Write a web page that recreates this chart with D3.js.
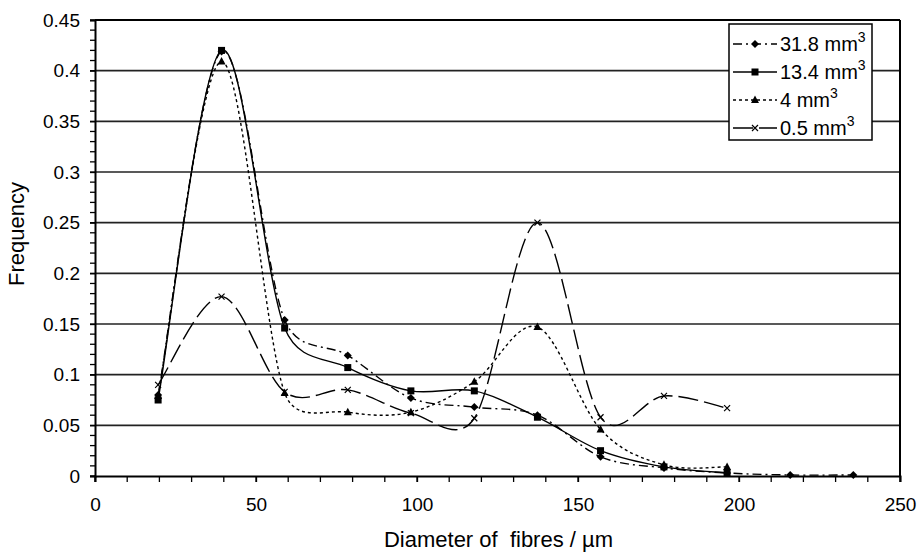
<!DOCTYPE html>
<html><head><meta charset="utf-8">
<script src="https://cdn.jsdelivr.net/npm/d3@7/dist/d3.min.js"></script>
<style>body{margin:0;background:#fff}svg{display:block}text{font-family:"Liberation Sans",Arial,sans-serif;fill:#000;white-space:pre}</style>
</head><body><svg id="c" width="918" height="553"></svg>
<script>
const diameters = [19.6, 39.3, 58.9, 78.5, 98.1, 117.8, 137.4, 157.0, 176.7, 196.3, 215.9, 235.5];
const seriesNames = ["31.8 mm", "13.4 mm", "4 mm", "0.5 mm"];
const s318 = [0.080, 0.419, 0.154, 0.119, 0.077, 0.068, 0.060, 0.019, 0.008, 0.003, 0.001, 0.001];
const s134 = [0.075, 0.420, 0.146, 0.107, 0.084, 0.084, 0.058, 0.025, 0.009, 0.003];
const s4   = [0.079, 0.409, 0.082, 0.063, 0.063, 0.093, 0.147, 0.046, 0.011, 0.009];
const s05  = [0.090, 0.177, 0.083, 0.085, 0.062, 0.057, 0.250, 0.058, 0.079, 0.067];
const xTicks = [0, 50, 100, 150, 200, 250];
const yTicks = [0, 0.05, 0.1, 0.15, 0.2, 0.25, 0.3, 0.35, 0.4, 0.45];

const series = [
  {name: seriesNames[0], values: s318, dash: "9,4,2,4", marker: "diamond"},
  {name: seriesNames[1], values: s134, dash: null, marker: "square"},
  {name: seriesNames[2], values: s4, dash: "3,3", marker: "triangle"},
  {name: seriesNames[3], values: s05, dash: "20,6", marker: "cross"}
];

const svg = d3.select("#c");
const m = {l: 95, r: 900, t: 20, b: 476};
const x = d3.scaleLinear().domain([0, 250]).range([m.l, m.r]);
const y = d3.scaleLinear().domain([0, 0.45]).range([m.b, m.t]);

svg.append("g").selectAll("line").data(yTicks.slice(1)).join("line")
  .attr("x1", m.l).attr("x2", m.r).attr("y1", d => y(d)).attr("y2", d => y(d))
  .attr("stroke", "#222").attr("stroke-width", 1.6);
svg.append("line").attr("x1", m.r).attr("x2", m.r).attr("y1", m.t).attr("y2", m.b).attr("stroke", "#000").attr("stroke-width", 2);

svg.append("g").selectAll("line").data(d3.range(0, 251, 10)).join("line")
  .attr("x1", d => x(d)).attr("x2", d => x(d)).attr("y1", m.b).attr("y2", m.b + 6)
  .attr("stroke", "#000").attr("stroke-width", 1.3);
svg.append("g").selectAll("line").data(d3.range(0, 46).map(i => i / 100)).join("line")
  .attr("x1", m.l - 5).attr("x2", m.l).attr("y1", d => y(d)).attr("y2", d => y(d))
  .attr("stroke", "#000").attr("stroke-width", 1.3);

const xAxis = svg.append("g").attr("transform", `translate(0,${m.b})`)
  .call(d3.axisBottom(x).tickValues(xTicks).tickSize(6).tickPadding(16).tickFormat(d3.format("d")));
const yAxis = svg.append("g").attr("transform", `translate(${m.l},0)`)
  .call(d3.axisLeft(y).tickValues(yTicks).tickSize(5).tickPadding(10).tickFormat(d => d === 0 ? "0" : String(+d.toFixed(2))));
[xAxis, yAxis].forEach(a => {
  a.select(".domain").attr("stroke", "#000").attr("stroke-width", 2);
  a.selectAll(".tick line").attr("stroke", "#000").attr("stroke-width", 1.3);
  a.selectAll("text").attr("font-size", 19).attr("fill", "#000");
});
svg.append("line").attr("x1", m.l).attr("x2", m.r).attr("y1", m.t).attr("y2", m.t).attr("stroke", "#000").attr("stroke-width", 2);

svg.append("text").attr("x", (m.l + m.r) / 2 + 1).attr("y", 547).attr("text-anchor", "middle")
  .attr("font-size", 22).text("Diameter of  fibres / µm");
svg.append("text").attr("transform", `translate(24,${(m.t + m.b) / 2 - 14}) rotate(-90)`)
  .attr("text-anchor", "middle").attr("font-size", 22).text("Frequency");

// Excel-style smoothed line: Bezier with 1/6 tangents, capped at half the segment length
function smoothPath(vals) {
  const P = vals.map((v, i) => [x(diameters[i]), y(v)]);
  const p = d3.path();
  p.moveTo(P[0][0], P[0][1]);
  const dist = (a, b) => Math.hypot(b[0] - a[0], b[1] - a[1]);
  for (let i = 0; i < P.length - 1; i++) {
    const p0 = P[Math.max(0, i - 1)], p1 = P[i], p2 = P[i + 1], p3 = P[Math.min(P.length - 1, i + 2)];
    const d12 = dist(p1, p2), d02 = dist(p0, p2), d13 = dist(p1, p3);
    let f1 = 1 / 6, f2 = 1 / 6;
    if (d02 / 6 > d12 / 2) f1 = d12 / (2 * d02);
    if (d13 / 6 > d12 / 2) f2 = d12 / (2 * d13);
    const c1 = [p1[0] + (p2[0] - p0[0]) * f1, p1[1] + (p2[1] - p0[1]) * f1];
    const c2 = [p2[0] - (p3[0] - p1[0]) * f2, p2[1] - (p3[1] - p1[1]) * f2];
    p.bezierCurveTo(c1[0], c1[1], c2[0], c2[1], p2[0], p2[1]);
  }
  return p.toString();
}

function drawMarker(g, type, cx, cy) {
  if (type === "diamond") g.append("path").attr("d", `M${cx},${cy-4}L${cx+4},${cy}L${cx},${cy+4}L${cx-4},${cy}Z`).attr("fill", "#000");
  else if (type === "square") g.append("rect").attr("x", cx - 3.5).attr("y", cy - 3.5).attr("width", 7).attr("height", 7).attr("fill", "#000");
  else if (type === "triangle") g.append("path").attr("d", `M${cx},${cy-4.5}L${cx+4},${cy+3}L${cx-4},${cy+3}Z`).attr("fill", "#000");
  else g.append("path").attr("d", `M${cx-3},${cy-3}L${cx+3},${cy+3}M${cx-3},${cy+3}L${cx+3},${cy-3}`).attr("stroke", "#000").attr("stroke-width", 1.2);
}

const plot = svg.append("g");
series.slice().reverse().forEach(s => {
  plot.append("path").attr("d", smoothPath(s.values)).attr("fill", "none")
    .attr("stroke", "#000").attr("stroke-width", 1.4).attr("stroke-dasharray", s.dash);
});
series.slice().reverse().forEach(s => {
  const g = plot.append("g");
  s.values.forEach((v, i) => drawMarker(g, s.marker, x(diameters[i]), y(v)));
});

const lg = svg.append("g");
lg.append("rect").attr("x", 729).attr("y", 24).attr("width", 143).attr("height", 116)
  .attr("fill", "#fff").attr("stroke", "#000").attr("stroke-width", 1.5);
series.forEach((s, i) => {
  const ly = 44 + i * 28;
  lg.append("line").attr("x1", 733).attr("x2", 777).attr("y1", ly).attr("y2", ly)
    .attr("stroke", "#000").attr("stroke-width", 1.4).attr("stroke-dasharray", s.dash);
  drawMarker(lg, s.marker, 755, ly);
  const t = lg.append("text").attr("x", 780).attr("y", ly + 7).attr("font-size", 20);
  t.append("tspan").text(s.name);
  t.append("tspan").attr("dy", -9).attr("font-size", 14).text("3");
});
</script></body></html>
